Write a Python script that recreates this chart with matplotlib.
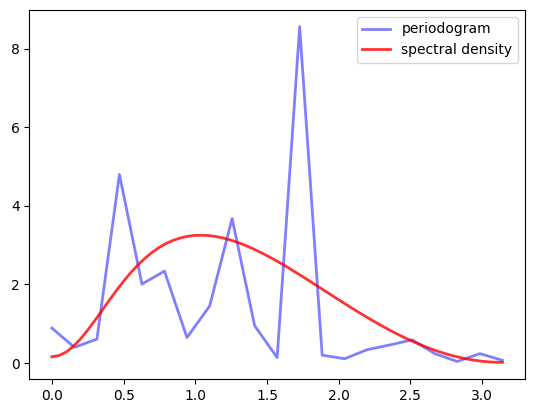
import numpy as np
import matplotlib.pyplot as plt

# periodogram at Fourier frequencies 2*pi*j/40, j = 0..20
freqs = [0.0, 0.157, 0.314, 0.471, 0.628, 0.785, 0.942, 1.100, 1.257, 1.414,
         1.571, 1.728, 1.885, 2.042, 2.199, 2.356, 2.513, 2.670, 2.827, 2.985, 3.142]
pgram = [0.89, 0.40, 0.61, 4.80, 2.01, 2.34, 0.65, 1.45, 3.68, 0.95,
         0.14, 8.56, 0.20, 0.11, 0.34, 0.46, 0.59, 0.24, 0.04, 0.24, 0.07]

# spectral density (every 0.05)
sd_w = [0.0, 0.05, 0.1, 0.15, 0.2, 0.25, 0.3, 0.35, 0.4, 0.45, 0.5, 0.55,
        0.6, 0.65, 0.7, 0.75, 0.8, 0.85, 0.9, 0.95, 1.0, 1.05, 1.1, 1.15,
        1.2, 1.25, 1.3, 1.35, 1.4, 1.45, 1.5, 1.55, 1.6, 1.65, 1.7, 1.75,
        1.8, 1.85, 1.9, 1.95, 2.0, 2.05, 2.1, 2.15, 2.2, 2.25, 2.3, 2.35,
        2.4, 2.45, 2.5, 2.55, 2.6, 2.65, 2.7, 2.75, 2.8, 2.85, 2.9, 2.95,
        3.0, 3.05, 3.1, 3.142]
sd = [0.160, 0.191, 0.282, 0.427, 0.616, 0.839, 1.084, 1.340, 1.597, 1.846,
      2.082, 2.300, 2.497, 2.670, 2.820, 2.946, 3.049, 3.129, 3.188, 3.228,
      3.249, 3.253, 3.242, 3.216, 3.177, 3.126, 3.065, 2.994, 2.914, 2.827,
      2.734, 2.635, 2.531, 2.423, 2.311, 2.197, 2.082, 1.964, 1.847, 1.729,
      1.612, 1.496, 1.382, 1.269, 1.160, 1.053, 0.950, 0.850, 0.755, 0.664,
      0.578, 0.498, 0.423, 0.353, 0.290, 0.233, 0.182, 0.138, 0.100, 0.070,
      0.046, 0.030, 0.020, 0.018]

fig, ax = plt.subplots(figsize=(5.34, 4.13), dpi=100)
fig.subplots_adjust(left=0.055, right=0.983, top=0.976, bottom=0.082)

ax.plot(freqs, pgram, 'b-', lw=2, alpha=0.5, label='periodogram')
ax.plot(sd_w, sd, 'r-', lw=2, alpha=0.8, label='spectral density')
ax.legend(loc='upper right')

fig.savefig('out.png', dpi=100)
